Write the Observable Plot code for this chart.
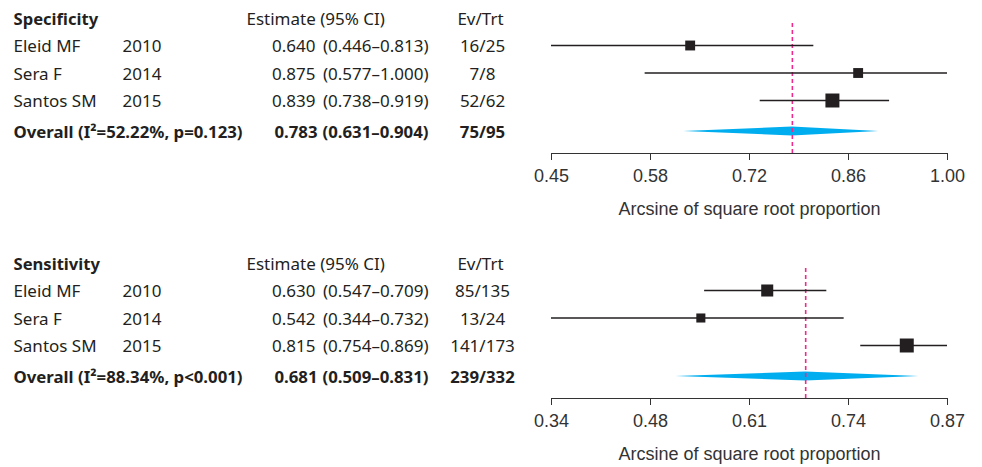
<!DOCTYPE html>
<html>
<head>
<meta charset="utf-8">
<script src="https://cdn.jsdelivr.net/npm/d3@7"></script>
<script src="https://cdn.jsdelivr.net/npm/@observablehq/plot@0.6"></script>
<style>
  html, body { margin: 0; padding: 0; background: #fff; }
  #chart svg { display: block; }
</style>
</head>
<body>
<div id="chart"></div>
<script>
// ---- data ----
const studies = ["Eleid MF", "Sera F", "Santos SM"];
const years = ["2010", "2014", "2015"];

const specTitle = "Specificity";
const specEst = [0.640, 0.875, 0.839];
const specLo = [0.446, 0.577, 0.738];
const specHi = [0.813, 1.000, 0.919];
const specEv = ["16/25", "7/8", "52/62"];
const specWeight = [25, 25, 50];
const specOverallLabel = "Overall (I²=52.22%, p=0.123)";
const specOverall = [0.783, 0.631, 0.904];
const specOverallEv = "75/95";
const specTicks = [0.446, 0.5845, 0.723, 0.8615, 1.000];
const specTickLabels = ["0.45", "0.58", "0.72", "0.86", "1.00"];

const sensTitle = "Sensitivity";
const sensEst = [0.630, 0.542, 0.815];
const sensLo = [0.547, 0.344, 0.754];
const sensHi = [0.709, 0.732, 0.869];
const sensEv = ["85/135", "13/24", "141/173"];
const sensWeight = [37, 21, 50];
const sensOverallLabel = "Overall (I²=88.34%, p<0.001)";
const sensOverall = [0.681, 0.509, 0.831];
const sensOverallEv = "239/332";
const sensTicks = [0.344, 0.47525, 0.6065, 0.73775, 0.869];
const sensTickLabels = ["0.34", "0.48", "0.61", "0.74", "0.87"];

const headerEstimate = "Estimate (95% CI)";
const headerEv = "Ev/Trt";
const xLabel = "Arcsine of square root proportion";

const fmt = v => v.toFixed(3);

function panel(title, est, lo, hi, ev, weight, ovLabel, ov, ovEv, ticks, tickLabels, height) {
  const rows = studies.map((s, i) => ({
    row: i + 1, name: s, year: years[i], est: est[i], lo: lo[i], hi: hi[i], ev: ev[i], w: weight[i],
    e: fmt(est[i]), ci: `(${fmt(lo[i])}–${fmt(hi[i])})`
  }));
  const header = [{row: 0, name: title, ci: headerEstimate, ev: headerEv}];
  const overall = [{row: 4, name: ovLabel, e: fmt(ov[0]), ci: `(${fmt(ov[1])}–${fmt(ov[2])})`, ev: ovEv}];
  const dh = 0.165;
  const diamond = [
    {x: ov[1], y1: 4, y2: 4},
    {x: ov[0], y1: 4 - dh, y2: 4 + dh},
    {x: ov[2], y1: 4, y2: 4}
  ];
  const tf = {fontFamily: "Noto Sans", fontSize: 17, fill: "#231f20", frameAnchor: "left", y: "row", dy: 1.2};
  const col = (data, extra) => Plot.text(data, {...tf, ...extra});
  const bold = {fontWeight: "bold", fontSize: 16.8, dy: 4.2};
  return Plot.plot({
    width: 982,
    height,
    marginLeft: 551,
    marginRight: 35,
    marginTop: 23,
    marginBottom: height - 153,
    style: {fontFamily: "Liberation Sans, Arial, sans-serif", fontSize: "18px", color: "#333", background: "#fff"},
    x: {domain: [ticks[0], ticks[ticks.length - 1]], ticks, tickFormat: (d, i) => tickLabels[i],
        tickSize: 7, tickPadding: 9, line: true, label: null},
    y: {type: "linear", domain: [0, 4], range: [17.5, 127.5], axis: null},
    r: {type: "sqrt", domain: [0, 100], range: [0, 11.16]},
    marks: [
      // table text
      col(header, {text: "name", dx: -538, textAnchor: "start", fontWeight: "bold", fontSize: 16.6}),
      col(header, {text: "ci", dx: -305, textAnchor: "start"}),
      col(header, {text: "ev", dx: -71, textAnchor: "middle"}),
      col(rows, {text: "name", dx: -538, textAnchor: "start"}),
      col(rows, {text: "year", dx: -429, textAnchor: "start"}),
      col(rows, {text: "e", dx: -236, textAnchor: "end"}),
      col(rows, {text: "ci", dx: -123, textAnchor: "end"}),
      col(rows, {text: "ev", dx: -69, textAnchor: "middle"}),
      col(overall, {text: "name", dx: -538, textAnchor: "start", ...bold}),
      col(overall, {text: "e", dx: -234, textAnchor: "end", ...bold}),
      col(overall, {text: "ci", dx: -123, textAnchor: "end", ...bold}),
      col(overall, {text: "ev", dx: -69, textAnchor: "middle", ...bold}),
      // diamond
      Plot.areaY(diamond, {x: "x", y1: "y1", y2: "y2", fill: "#00aeef", dy: 3.5}),
      // reference line
      Plot.ruleX([ov[0]], {stroke: "#ee2a8a", strokeWidth: 1.6, strokeDasharray: "4,3"}),
      // CIs
      Plot.ruleY(rows, {y: "row", x1: "lo", x2: "hi", stroke: "#231f20", strokeWidth: 1.3}),
      Plot.dot(rows, {x: "est", y: "row", r: "w", symbol: "square", fill: "#231f20", stroke: null}),
      // x label
      Plot.text([xLabel], {frameAnchor: "bottom", dy: 61, fontSize: 18, fill: "#333"})
    ]
  });
}

const chart = document.getElementById("chart");
chart.append(panel(specTitle, specEst, specLo, specHi, specEv, specWeight,
  specOverallLabel, specOverall, specOverallEv, specTicks, specTickLabels, 245));
chart.append(panel(sensTitle, sensEst, sensLo, sensHi, sensEv, sensWeight,
  sensOverallLabel, sensOverall, sensOverallEv, sensTicks, sensTickLabels, 222));
</script>
</body>
</html>
